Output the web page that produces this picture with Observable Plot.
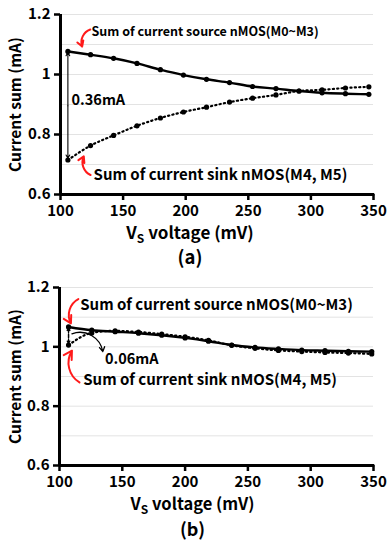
<!DOCTYPE html>
<html><head><meta charset="utf-8">
<script src="https://cdn.jsdelivr.net/npm/d3@7"></script>
<script src="https://cdn.jsdelivr.net/npm/@observablehq/plot@0.6"></script>
<style>
body{margin:0;background:#fff}
#a,#b{width:387px}
svg{display:block}
</style>
</head><body>
<div id="a"></div><div id="b"></div>
<script>
// ---- data ----
const vsA   = [105.9,124.0,142.4,161.1,179.8,198.2,216.6,235.0,253.4,272.1,290.5,308.9,327.6,346.3];
const srcA  = [1.077,1.066,1.054,1.037,1.016,0.998,0.984,0.973,0.960,0.953,0.945,0.939,0.936,0.934];
const sinkA = [0.715,0.763,0.797,0.829,0.855,0.875,0.891,0.908,0.921,0.932,0.945,0.949,0.955,0.959];

const vsB   = [107.2,125.7,144.3,162.9,181.4,200.0,218.6,237.1,255.7,274.3,292.9,311.4,330.0,348.6];
const srcB  = [1.067,1.056,1.051,1.046,1.039,1.030,1.019,1.006,0.998,0.993,0.989,0.987,0.985,0.984];
const sinkB = [1.006,1.047,1.054,1.050,1.043,1.034,1.022,1.005,0.995,0.988,0.984,0.981,0.979,0.976];

const xTicks = [100,150,200,250,300,350];
const yTicks = [0.6,0.8,1,1.2];
const gridTicks = [0.7,0.8,0.9,1,1.1,1.2];

const srcLabel  = "Sum of current source nMOS(M0~M3)";
const sinkLabel = "Sum of current sink nMOS(M4, M5)";
const xLabel = "VS voltage (mV)";
const yLabel = "Current sum (mA)";
const gapA = "0.36mA";
const gapB = "0.06mA";
const captions = ["(a)","(b)"];

// annotation anchor positions (data units)
const annA = {src:[124.8,1.143], srcArrow:[123.8,1.150,117.3,1.093],
              sink:[126.4,0.664], sinkArrow:[124.0,0.665,118.6,0.727],
              gap:[108.8,0.915]};
const annB = {src:[116.5,1.142], srcArrow:[115.0,1.161,109.1,1.079],
              sink:[118.9,0.888], sinkArrow:[115.9,0.880,109.9,0.987],
              gap:[136.2,0.959], gapArrow:[109.9,1.044,134.5,0.984]};

const FONT = "'Noto Sans CJK KR','Noto Sans',sans-serif";

function panel(vs, src, sink, ann, opts) {
  const rows = vs.map((v,i)=>({v, src:src[i], sink:sink[i]}));
  const x0 = vs[0];
  const mid = (src[0]+sink[0])/2;
  const marks = [
    Plot.gridY(gridTicks, {stroke:"#e3e3e3", strokeOpacity:1, strokeWidth:1}),
    Plot.axisY(yTicks, {tickFormat: d => d===1 ? "1" : d.toFixed(1), tickSize:6, tickPadding:4,
      strokeWidth:2.5, label:null, fontSize:15}),
    Plot.axisX(xTicks, {tickSize:6, tickPadding:5, strokeWidth:2.5, label:null, fontSize:15}),
    Plot.ruleX([100], {y1:0.6, y2:1.2, stroke:"black", strokeWidth:3}),
    Plot.ruleY([0.6], {x1:100, x2:351, stroke:"black", strokeWidth:3}),
    Plot.line(rows, {x:"v", y:"src", stroke:"black", strokeWidth:2.4, curve:"monotone-x"}),
    Plot.line(rows, {x:"v", y:"sink", stroke:"black", strokeWidth:2.2, strokeDasharray:"1.2,3.2", strokeLinecap:"round", curve:"monotone-x"}),
    Plot.dot(rows, {x:"v", y:"src", r:2.6, fill:"black"}),
    Plot.dot(rows, {x:"v", y:"sink", r:2.6, fill:"black"}),
    // double arrow for gap
    Plot.arrow([[x0, mid, x0, src[0]-0.004],[x0, mid, x0, sink[0]+0.006]],
      {x1:d=>d[0], y1:d=>d[1], x2:d=>d[2], y2:d=>d[3], stroke:"black", strokeWidth:opts.gapWidth,
       headLength:5, strokeDasharray:opts.gapDash}),
    // red arrows
    Plot.arrow([ann.srcArrow], {x1:d=>d[0], y1:d=>d[1], x2:d=>d[2], y2:d=>d[3], stroke:"#ff1a1a", strokeWidth:2, bend:-45, headLength:7}),
    Plot.arrow([ann.sinkArrow], {x1:d=>d[0], y1:d=>d[1], x2:d=>d[2], y2:d=>d[3], stroke:"#ff1a1a", strokeWidth:2, bend:45, headLength:7}),
    Plot.text([srcLabel], {x:ann.src[0], y:ann.src[1], textAnchor:"start", fontSize:opts.srcSize, fill:"black"}),
    Plot.text([sinkLabel], {x:ann.sink[0], y:ann.sink[1], textAnchor:"start", fontSize:15, fill:"black"}),
    Plot.text([opts.gapText], {x:ann.gap[0], y:ann.gap[1], textAnchor:"start", fontSize:14.5, fill:"black"}),
    Plot.text([yLabel], {frameAnchor:"left", dx:opts.yLabDx, rotate:-90, textAnchor:"middle", lineAnchor:"middle", fontSize:15.5, fill:"black"}),
    Plot.text([xLabel], {frameAnchor:"bottom", dx:opts.labDx, dy:opts.labDy, lineAnchor:"middle", fontSize:opts.labSize, fill:"black"}),
    Plot.text([opts.caption], {frameAnchor:"bottom", dx:opts.labDx, dy:opts.capDy, lineAnchor:"middle", fontSize:opts.capSize, fill:"black"})
  ];
  if (ann.gapArrow) {
    marks.push(Plot.arrow([ann.gapArrow], {x1:d=>d[0], y1:d=>d[1], x2:d=>d[2], y2:d=>d[3], stroke:"black", strokeWidth:1.3, bend:50, headLength:6}));
  }
  const svg = Plot.plot({
    width:387, height:opts.height,
    marginTop:opts.mt, marginBottom:opts.mb, marginLeft:opts.ml, marginRight:opts.mr,
    x:{domain:[100,350]}, y:{domain:[0.6,1.2]},
    style:{fontFamily:FONT, fontSize:"15px", fontWeight:"bold", color:"black", background:"white", overflow:"visible"},
    marks
  });
  d3.select(svg).selectAll("text").filter(function(){return this.textContent===xLabel;}).each(function(){
    const t = d3.select(this); t.text("");
    t.append("tspan").text("V");
    t.append("tspan").attr("font-size","12").attr("dy","4").text("S");
    t.append("tspan").attr("dy","-4").text(" voltage (mV)");
  });
  return svg;
}

document.getElementById("a").append(panel(vsA, srcA, sinkA, annA,
  {height:270, mt:14, mb:76, ml:60, mr:14, yLabDx:-44, srcSize:12.5, gapText:gapA, gapWidth:1.1, gapDash:null,
   labDx:-27, labDy:39, labSize:17, capDy:64, capSize:18.5, caption:captions[0]}));
document.getElementById("b").append(panel(vsB, srcB, sinkB, annB,
  {height:271, mt:17, mb:76, ml:59, mr:14, yLabDx:-43, srcSize:15, gapText:gapB, gapWidth:1.4, gapDash:"2,1.5",
   labDx:-24, labDy:39, labSize:16.5, capDy:65, capSize:18, caption:captions[1]}));
</script>
</body></html>
